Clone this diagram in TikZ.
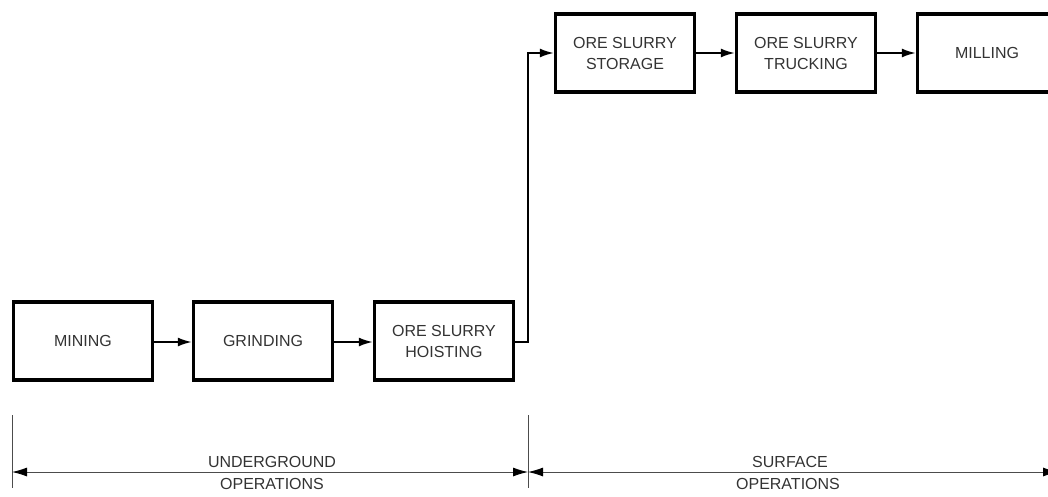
\documentclass[tikz,border=0pt]{standalone}
\usepackage{fontspec}
\setmainfont{Liberation Sans}
\usetikzlibrary{arrows.meta}
\begin{document}
\begin{tikzpicture}[x=1pt,y=-1pt,
  proc/.style={draw=black, line width=3.4pt, minimum width=139pt, minimum height=78pt,
    inner sep=0pt, align=center, font=\fontsize{16}{21}\selectfont, text=black!80},
  flow/.style={line width=1.8pt, -{Latex[length=14pt,width=9pt]}},
  dimline/.style={line width=0.9pt, draw=black!70, {Latex[length=15pt,width=9pt,color=black]}-{Latex[length=15pt,width=9pt,color=black]}},
  tick/.style={line width=0.9pt, draw=black!70},
  lbl/.style={font=\fontsize{16}{21}\selectfont, text=black!80, inner sep=0pt}]
\useasboundingbox (0,0) rectangle (1048,496);
\clip (0,0) rectangle (1048,496);
% bottom row
\node[proc] (mining) at (83,341) {MINING};
\node[proc] (grinding) at (263,341) {GRINDING};
\node[proc] (hoisting) at (444,341) {ORE SLURRY\\HOISTING};
% top row
\node[proc] (storage) at (625,53) {ORE SLURRY\\STORAGE};
\node[proc] (trucking) at (806,53) {ORE SLURRY\\TRUCKING};
\node[proc] (milling) at (987,53) {MILLING};
% flow connectors
\draw[flow] (mining.east |- 0,342) -- (grinding.west |- 0,342);
\draw[flow] (grinding.east |- 0,342) -- (hoisting.west |- 0,342);
\coordinate (riseb) at (528,342);
\coordinate (riset) at (528,53);
\draw[flow] (hoisting.east |- riseb) -- (riseb) -- (riset) -- (storage.west);
\draw[flow] (storage) -- (trucking);
\draw[flow] (trucking) -- (milling);
% dimension lines
\coordinate (ta1) at (12,415);
\coordinate (ta2) at (12,488);
\coordinate (tb1) at (528,415);
\coordinate (tb2) at (528,488);
\coordinate (da) at (12,472);
\coordinate (db) at (528,472);
\coordinate (dc) at (1058,472);
\draw[tick] (ta1) -- (ta2);
\draw[tick] (tb1) -- (tb2);
\draw[dimline] (da) -- (db);
\draw[dimline] (db) -- (dc);
\node[lbl] (ug1) at (272,462) {UNDERGROUND};
\node[lbl] (ug2) at (272,484) {OPERATIONS};
\node[lbl] (sf1) at (790,462) {SURFACE};
\node[lbl] (sf2) at (788,484) {OPERATIONS};
\end{tikzpicture}
\end{document}
